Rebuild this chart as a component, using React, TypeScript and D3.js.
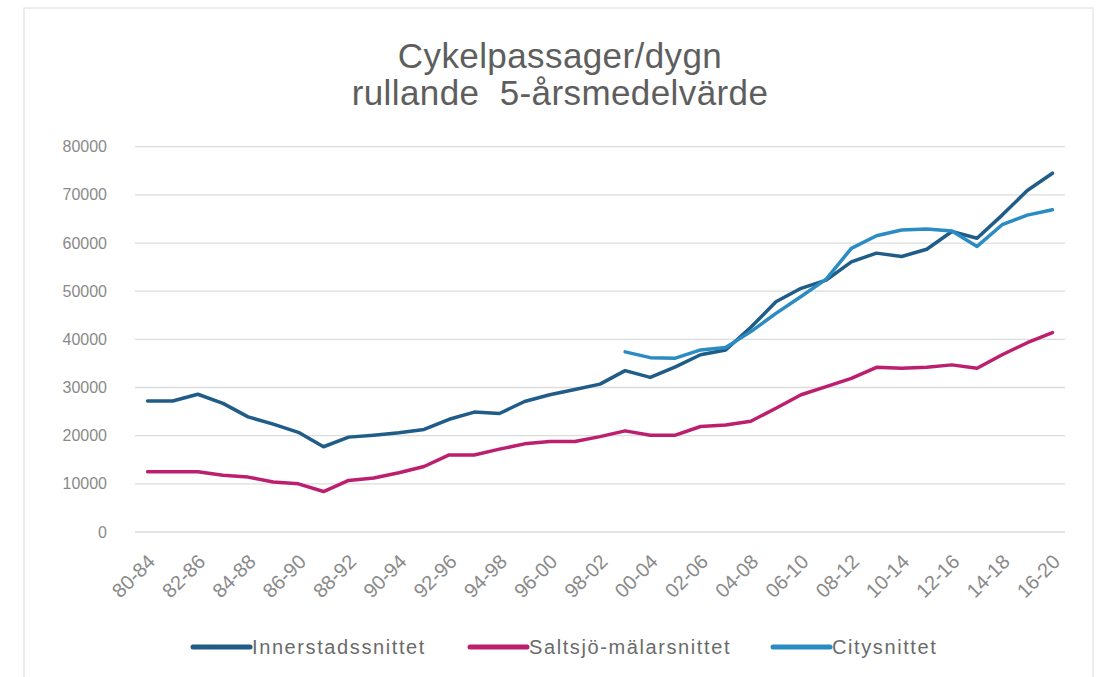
import React from "react";
import * as d3 from "d3";

const categories: string[] = [
  "80-84", "81-85", "82-86", "83-87", "84-88", "85-89", "86-90", "87-91", "88-92", "89-93",
  "90-94", "91-95", "92-96", "93-97", "94-98", "95-99", "96-00", "97-01", "98-02", "99-03",
  "00-04", "01-05", "02-06", "03-07", "04-08", "05-09", "06-10", "07-11", "08-12", "09-13",
  "10-14", "11-15", "12-16", "13-17", "14-18", "15-19", "16-20",
];

const innerstad: (number | null)[] = [
  27200, 27200, 28600, 26700, 23900, 22400, 20700, 17700, 19700, 20100,
  20600, 21300, 23400, 24900, 24600, 27100, 28500, 29600, 30700, 33500,
  32100, 34300, 36800, 37800, 42500, 47800, 50600, 52300, 56100, 57900,
  57200, 58700, 62400, 61000, 65800, 70900, 74500,
];

const saltsjo: (number | null)[] = [
  12500, 12500, 12500, 11800, 11400, 10400, 10000, 8400, 10700, 11200,
  12300, 13600, 16000, 16000, 17200, 18300, 18800, 18800, 19800, 21000,
  20100, 20100, 21900, 22200, 23000, 25700, 28500, 30200, 31900, 34200,
  34000, 34200, 34700, 34000, 36800, 39300, 41400,
];

const city: (number | null)[] = [
  null, null, null, null, null, null, null, null, null, null,
  null, null, null, null, null, null, null, null, null, 37400,
  36200, 36100, 37800, 38300, 41600, 45400, 48900, 52500, 58900, 61500,
  62700, 62900, 62500, 59300, 63800, 65800, 66900,
];

const yTicks: number[] = [0, 10000, 20000, 30000, 40000, 50000, 60000, 70000, 80000];
const xTickLabels: string[] = categories.filter((_, i) => i % 2 === 0);

const seriesNames: string[] = ["Innerstadssnittet", "Saltsjö-mälarsnittet", "Citysnittet"];
const seriesColors: string[] = ["#1f5d88", "#bd1f6f", "#2b8bc3"];
const titleLines: string[] = ["Cykelpassager/dygn", "rullande  5-årsmedelvärde"];

export default function App() {
  const W = 1100;
  const H = 677;
  const left = 135;
  const right = 1065;
  const top = 146.7;
  const bottom = 532;

  const x = d3.scaleBand<string>().domain(categories).range([left, right]).paddingInner(0).paddingOuter(0);
  const cx = (c: string) => (x(c) as number) + x.bandwidth() / 2;
  const y = d3.scaleLinear().domain([0, 80000]).range([bottom, top]);

  const seriesData = [innerstad, saltsjo, city];
  const lineGen = d3
    .line<number | null>()
    .defined((d) => d !== null)
    .x((_, i) => cx(categories[i]))
    .y((d) => y(d as number));

  const axisColor = "#8a8a8a";
  const font = "'Liberation Sans', Arial, sans-serif";

  const legendItems = [
    { lx: 193, tx: 252 },
    { lx: 470, tx: 529 },
    { lx: 773, tx: 832 },
  ];

  return (
    <svg
      width={W}
      height={H}
      style={{ position: "absolute", left: 0, top: 0, background: "#fff" }}
      fontFamily={font}
    >
      <rect x={24} y={8} width={1069} height={690} fill="#fff" stroke="#e8e8e8" strokeWidth={1.5} />
      {titleLines.map((t, i) => (
        <text
          key={i}
          x={560}
          y={68 + i * 37}
          textAnchor="middle"
          fontSize={35}
          letterSpacing={0.4}
          fill="#5e5e5e"
          style={{ whiteSpace: "pre" }}
        >
          {t}
        </text>
      ))}
      {yTicks.map((t) => (
        <g key={t}>
          <line x1={left} x2={right} y1={y(t)} y2={y(t)} stroke="#dcdcdc" strokeWidth={1.3} />
          <text x={107} y={y(t)} dy="0.35em" textAnchor="end" fontSize={16} fill={axisColor}>
            {t}
          </text>
        </g>
      ))}
      {xTickLabels.map((c) => (
        <text
          key={c}
          transform={`translate(${cx(c) - 1},${bottom + 21}) rotate(-45)`}
          textAnchor="end"
          dy="0.7em"
          fontSize={20}
          fill={axisColor}
        >
          {c}
        </text>
      ))}
      {seriesData.map((s, i) => (
        <path
          key={i}
          d={lineGen(s) || ""}
          fill="none"
          stroke={seriesColors[i]}
          strokeWidth={3.5}
          strokeLinejoin="round"
          strokeLinecap="round"
        />
      ))}
      {seriesNames.map((n, i) => (
        <g key={n}>
          <line
            x1={legendItems[i].lx}
            x2={legendItems[i].lx + 57}
            y1={647}
            y2={647}
            stroke={seriesColors[i]}
            strokeWidth={5}
            strokeLinecap="round"
          />
          <text
            x={legendItems[i].tx}
            y={647}
            dy="0.35em"
            fontSize={20}
            letterSpacing={1.6}
            fill="#6a6a6a"
          >
            {n}
          </text>
        </g>
      ))}
    </svg>
  );
}
